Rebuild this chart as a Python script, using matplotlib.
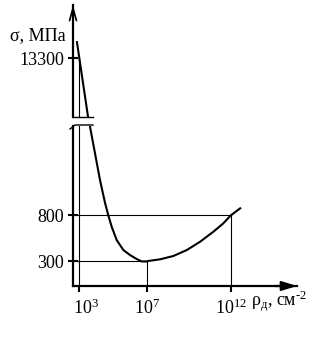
import matplotlib
matplotlib.use("Agg")
import matplotlib.pyplot as plt
import matplotlib.transforms as mtransforms

plt.rcParams['font.family'] = ['Liberation Serif', 'DejaVu Serif']
plt.rcParams['mathtext.default'] = 'regular'
plt.rcParams['mathtext.fontset'] = 'custom'
plt.rcParams['mathtext.rm'] = 'Liberation Serif'
plt.rcParams['mathtext.it'] = 'Liberation Serif'

# ---- data (log10 of dislocation density, stress in MPa) ----
upper_logrho = [2.86, 3.0, 3.52]
upper_sigma = [13650, 13300, 12000]

lower_logrho = [3.64, 3.93, 4.23, 4.53, 4.72, 4.93, 5.22, 5.62, 6.01, 6.41,
                6.71, 7.0, 7.10, 7.80, 8.59, 9.39, 10.18, 10.97, 11.56, 12.0, 12.56]
lower_sigma = [1761, 1478, 1185, 935, 804, 674, 533, 424, 370, 326,
               300, 300, 305, 323, 359, 424, 514, 623, 714, 800, 877]

x_ticks_log = [3, 7, 12]
x_tick_labels = [r'$10^{3}$', r'$10^{7}$', r'$10^{12}$']
y_ticks_lower = [300, 800]
y_ticks_upper = [13300]
guide_points = [(7, 300), (12, 800)]  # (log rho, sigma) marked with guide lines
start_point = (3, 13300)

FS = 13
W, H = 322, 337
fig = plt.figure(figsize=(W / 100, H / 100), dpi=100)

def frac_rect(x0, y_top, x1, y_bot):
    return [x0 / W, 1 - y_bot / H, (x1 - x0) / W, (y_bot - y_top) / H]

ax_lo = fig.add_axes(frac_rect(73, 126, 297, 286))
ax_hi = fig.add_axes(frac_rect(73, 5, 297, 117))

xlim = (10 ** 2.625, 10 ** 15.94)
for ax in (ax_lo, ax_hi):
    ax.set_xscale('log')
    ax.set_xlim(*xlim)
    ax.patch.set_visible(False)
    for s in ('top', 'right'):
        ax.spines[s].set_visible(False)
    ax.spines['left'].set_linewidth(1.6)
    ax.minorticks_off()

ax_lo.set_ylim(33, 1772)
ax_hi.set_ylim(12000, 14468)
ax_hi.spines['bottom'].set_visible(False)
ax_lo.spines['bottom'].set_linewidth(1.6)

lw_curve = 1.5
lw_guide = 0.8

ax_hi.plot([10 ** v for v in upper_logrho], upper_sigma, color='k', lw=lw_curve, clip_on=False)
ax_lo.plot([10 ** v for v in lower_logrho], lower_sigma, color='k', lw=lw_curve, clip_on=False)

# guide lines
for lx, sv in guide_points:
    ax_lo.plot([xlim[0], 10 ** lx], [sv, sv], color='k', lw=lw_guide)
    ax_lo.plot([10 ** lx, 10 ** lx], [ax_lo.get_ylim()[0], sv], color='k', lw=lw_guide)
ax_hi.plot([10 ** start_point[0]] * 2, [ax_hi.get_ylim()[0], start_point[1]], color='k', lw=lw_guide)
ax_lo.plot([10 ** start_point[0]] * 2, list(ax_lo.get_ylim()), color='k', lw=lw_guide)

# ticks
ax_lo.set_xticks([10 ** v for v in x_ticks_log])
ax_lo.set_xticklabels(x_tick_labels)
ax_lo.tick_params(axis='x', direction='out', length=4.3, width=1.5, pad=4.5, labelsize=FS)
ax_lo.set_yticks(y_ticks_lower)
ax_lo.set_yticklabels([str(v) for v in y_ticks_lower])
ax_lo.tick_params(axis='y', direction='inout', length=6.5, width=1.5, pad=3.0, labelsize=FS)
ax_hi.set_xticks([])
ax_hi.set_yticks(y_ticks_upper)
ax_hi.set_yticklabels([str(v) for v in y_ticks_upper])
ax_hi.tick_params(axis='y', direction='inout', length=6.5, width=1.5, pad=3.0, labelsize=FS)

# nudge the first x label right (clear of the y axis), as in the original
lbl = ax_lo.get_xticklabels()[0]
lbl.set_transform(lbl.get_transform() + mtransforms.ScaledTranslation(5 / 72, 0, fig.dpi_scale_trans))

# axis arrows
ax_lo.annotate('', xy=(1.0, 0), xytext=(0.9, 0), xycoords='axes fraction',
               arrowprops=dict(arrowstyle='-|>,head_length=0.9,head_width=0.28',
                               lw=1.6, color='k', mutation_scale=10,
                               shrinkA=0, shrinkB=0))
ax_hi.annotate('', xy=(0, 1.0), xytext=(0, 0.85), xycoords='axes fraction',
               arrowprops=dict(arrowstyle='->,head_length=0.9,head_width=0.25',
                               lw=1.2, color='k', mutation_scale=10,
                               shrinkA=0, shrinkB=0))

# break marks
hw = 224.0
ax_hi.plot([0, 20 / hw], [0, 0], transform=ax_hi.transAxes, color='k', lw=1.0, clip_on=False)
ax_lo.plot([-3 / hw, 2 / hw, 20 / hw], [1 - 3 / 160, 1 + 1 / 160, 1 + 1 / 160],
           transform=ax_lo.transAxes, color='k', lw=1.0, clip_on=False)

# labels
fig.text(66 / W, 1 - 40 / H, 'σ, МПа', ha='right', va='baseline', fontsize=FS)
fig.text(251 / W, 1 - 306 / H, 'ρ$_{\\mathrm{д}}$, см$^{\\mathrm{\u2010}2}$',
         ha='left', va='baseline', fontsize=FS)

fig.savefig('out.png', dpi=100)
